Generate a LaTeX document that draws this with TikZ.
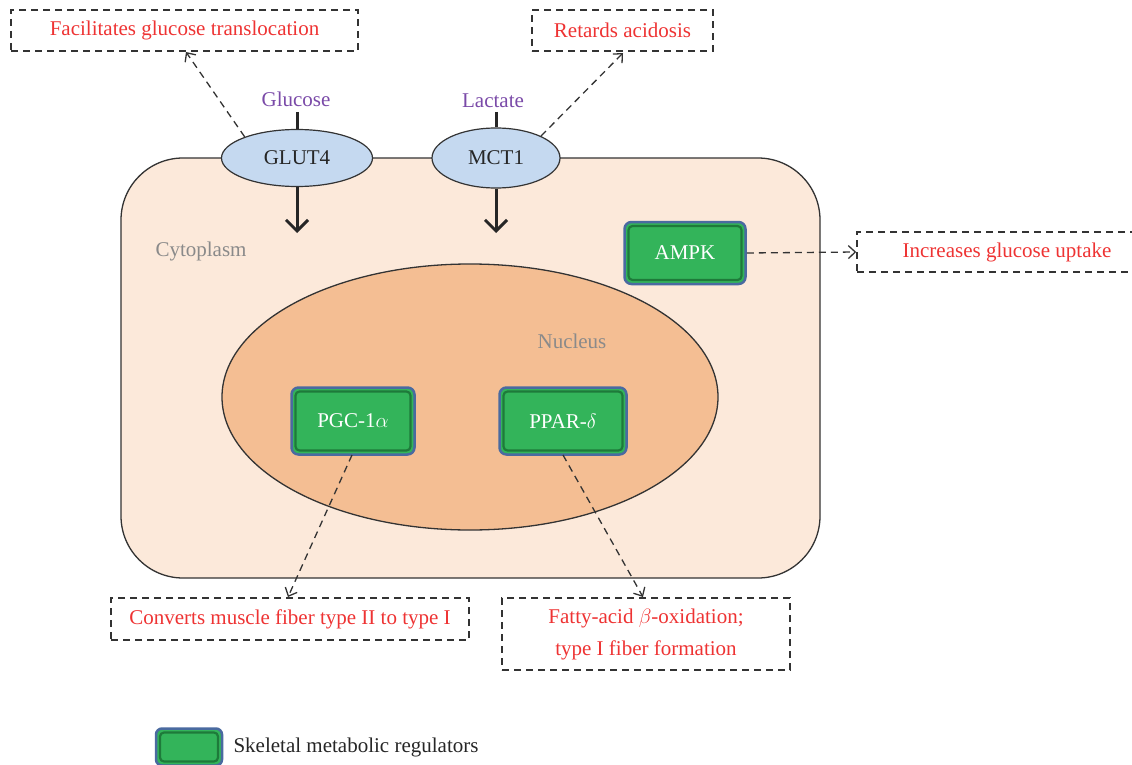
\documentclass[tikz,border=0pt]{standalone}
\usepackage{fontspec}
\setmainfont{Liberation Serif}
\usetikzlibrary{arrows.meta,shapes.geometric}
\definecolor{cellfill}{HTML}{FCE9DA}
\definecolor{nucfill}{HTML}{F4BE93}
\definecolor{protfill}{HTML}{C5D9F0}
\definecolor{greenfill}{HTML}{33B45A}
\definecolor{greendark}{HTML}{1E7A3A}
\definecolor{boxblue}{HTML}{4A6AA0}
\definecolor{redtxt}{HTML}{EE3333}
\definecolor{purp}{HTML}{7A4AA8}
\definecolor{graytxt}{HTML}{8A8A8A}
\definecolor{linegray}{HTML}{333333}
\tikzset{
  txt/.style={font=\fontsize{21}{25}\selectfont},
  effect/.style={txt, text=redtxt, draw=linegray, dashed, dash pattern=on 7pt off 5pt, line width=1.5pt, inner sep=0pt, align=center},
  reg/.style={txt, text=white, fill=greenfill, draw=boxblue, line width=2.5pt, rounded corners=7pt, inner sep=0pt,
    path picture={\draw[greendark, line width=2.2pt, rounded corners=4pt]
      ([shift={(4pt,-4pt)}]path picture bounding box.north west) rectangle
      ([shift={(-4pt,4pt)}]path picture bounding box.south east);}},
  prot/.style={txt, ellipse, fill=protfill, draw=linegray, line width=1.2pt, inner sep=0pt, text=black!85},
  substrate/.style={txt, text=purp},
  region/.style={txt, text=graytxt},
  influx/.style={line width=3pt, draw=black!85, -{Straight Barb[length=11pt,width=22pt,line width=3pt]}},
  stem/.style={line width=3pt, draw=black!85},
  effarrow/.style={draw=linegray, line width=1.3pt, dash pattern=on 7pt off 5pt, -{Straight Barb[length=7pt,width=13pt,line width=1.3pt]}}
}
\begin{document}
\begin{tikzpicture}[x=1pt,y=-1pt]
\useasboundingbox (0,0) rectangle (1132,765);
\clip (0,0) rectangle (1132,765);
% cell
\draw[fill=cellfill, draw=linegray, line width=1.3pt, rounded corners=62pt] (121,158) rectangle (820,578);
% nucleus
\node[ellipse, fill=nucfill, draw=linegray, line width=1.3pt, minimum width=496pt, minimum height=266pt, inner sep=0pt] (nuc) at (470,397) {};
\node[region] (cyto) at (201,251) {Cytoplasm};
\node[region] (nuclbl) at (572,341) {Nucleus};
% transporters
\node[prot, minimum width=151pt, minimum height=57pt] (glut) at (297,158) {GLUT4};
\node[prot, minimum width=128pt, minimum height=60pt] (mct) at (496,158) {MCT1};
\node[substrate] (gluc) at (296,99) {Glucose};
\node[substrate] (lac) at (493,101) {Lactate};
\coordinate (glin) at (297,233);
\coordinate (mcin) at (496,233);
\draw[stem] (297,112) -- (glut.north);
\draw[stem] (496,112) -- (mct.north);
\draw[influx] (glut.south) -- (glin);
\draw[influx] (mct.south) -- (mcin);
% regulators
\node[reg, minimum width=121pt, minimum height=62pt] (ampk) at (685,253) {AMPK};
\node[reg, minimum width=123pt, minimum height=67pt] (pgc) at (353,421) {PGC-1$\alpha$};
\node[reg, minimum width=127pt, minimum height=67pt] (ppar) at (563,421) {PPAR-$\delta$};
% effects
\node[effect, minimum width=347pt, minimum height=41pt] (e1) at (184.5,30.5) {Facilitates glucose translocation};
\node[effect, minimum width=181pt, minimum height=41pt] (e2) at (622.5,30.5) {Retards acidosis};
\node[effect, minimum width=300pt, minimum height=40pt] (e3) at (1007,252) {Increases glucose uptake};
\node[effect, minimum width=358pt, minimum height=42pt] (e4) at (290,619) {Converts muscle fiber type II to type I};
\node[effect, minimum width=288pt, minimum height=72pt] (e5) at (646,634) {Fatty-acid $\beta$-oxidation;\\[7pt]type I fiber formation};
% effect arrows
\draw[effarrow] (glut.158) -- (186,52);
\draw[effarrow] (mct.26) -- (623,53);
\draw[effarrow] (ampk.east) -- (e3.west);
\draw[effarrow] (352,455) -- (288,597);
\draw[effarrow] (563,455) -- (643,597);
% legend
\node[reg, minimum width=66pt, minimum height=37pt, rounded corners=6pt] (leg) at (189,747) {};
\node[txt, anchor=west, text=black!85] (legtxt) at (230,747) {Skeletal metabolic regulators};
\end{tikzpicture}
\end{document}
